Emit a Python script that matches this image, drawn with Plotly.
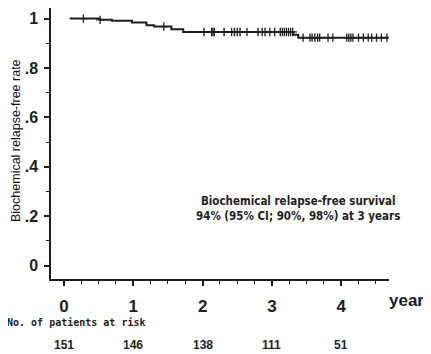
import plotly.graph_objects as go

# Kaplan-Meier step data (years, survival)
km_times = [0.08, 0.52, 0.69, 0.98, 1.19, 1.30, 1.55, 1.72, 3.31, 3.38, 4.68]
km_surv = [1.000, 0.995, 0.991, 0.984, 0.973, 0.968, 0.957, 0.946, 0.935, 0.923, 0.923]

# censoring times (years)
censor_times = [0.28, 0.52, 1.44,
                2.02, 2.13, 2.15, 2.17, 2.31, 2.42, 2.46, 2.50, 2.54, 2.64,
                2.80, 2.86, 2.90, 2.97, 3.04, 3.12, 3.15, 3.18, 3.21, 3.24, 3.27, 3.30,
                3.45, 3.55, 3.58, 3.62, 3.66, 3.69, 3.81, 3.88,
                4.08, 4.11, 4.14, 4.17, 4.25, 4.32, 4.39, 4.44, 4.51, 4.58, 4.66]

x_ticks = [0, 1, 2, 3, 4]
x_ticklabels = ["0", "1", "2", "3", "4"]
y_ticks = [0, 0.2, 0.4, 0.6, 0.8, 1.0]
y_ticklabels = ["0", ".2", ".4", ".6", ".8", "1"]

risk_times = [0, 1, 2, 3, 4]
risk_counts = [151, 146, 138, 111, 51]


def surv_at(t):
    s = km_surv[0]
    for tt, ss in zip(km_times, km_surv):
        if tt <= t:
            s = ss
    return s


censor_surv = [surv_at(t) for t in censor_times]

INK = "#1e1e1e"
NARROW = "Liberation Sans Narrow, Arial Narrow, Liberation Sans, sans-serif"

fig = go.Figure()
fig.add_trace(go.Scatter(
    x=km_times, y=km_surv, mode="lines",
    line=dict(shape="hv", color=INK, width=2),
    hoverinfo="skip", showlegend=False))
fig.add_trace(go.Scatter(
    x=censor_times, y=censor_surv, mode="markers",
    marker=dict(symbol="cross-thin", size=6, color=INK,
                line=dict(color=INK, width=1.3)),
    hoverinfo="skip", showlegend=False))

# page body has an 8px margin; lay the figure out relative to that
OFF = 8
W, H = 431 - OFF, 354 - OFF
L, R, T, B = 43, 42, 0, 75
ph = H - T - B
pw = W - L - R


def py(yref_px):
    return (H - B - (yref_px - OFF)) / ph


def px(xref_px):
    return (xref_px - OFF - L) / pw


fig.update_layout(
    width=W, height=H,
    margin=dict(l=L, r=R, t=T, b=B, autoexpand=False),
    paper_bgcolor="white", plot_bgcolor="white",
    xaxis=dict(
        range=[-0.188, 4.69], showgrid=False, zeroline=False,
        showline=True, linecolor=INK, linewidth=1.5,
        tickmode="array", tickvals=x_ticks, ticktext=x_ticklabels,
        ticks="outside", ticklen=5, tickwidth=1.5, tickcolor=INK,
        minor=dict(dtick=0.25, tick0=0, ticks="outside", ticklen=3,
                   tickwidth=1, tickcolor=INK),
        tickfont=dict(family=NARROW, size=17, color=INK, weight="bold"),
        ticklabelstandoff=6,
    ),
    yaxis=dict(
        range=[-0.054, 1.043], showgrid=False, zeroline=False,
        showline=True, linecolor=INK, linewidth=1.5,
        tickmode="array", tickvals=y_ticks, ticktext=y_ticklabels,
        ticks="outside", ticklen=5, tickwidth=1.5, tickcolor=INK,
        minor=dict(dtick=0.1, tick0=0, ticks="outside", ticklen=3,
                   tickwidth=1, tickcolor=INK),
        tickfont=dict(family=NARROW, size=16, color=INK, weight="bold"),
        ticklabelstandoff=3,
    ),
)

ann = []
ann.append(dict(xref="paper", yref="paper", x=px(16), y=0.5 * (py(50) + py(232)),
                text="Biochemical relapse-free rate", textangle=-90, showarrow=False,
                font=dict(family="Liberation Sans, Arial, sans-serif", size=12.5, color="#111"),
                xanchor="center", yanchor="middle"))
ann.append(dict(xref="x", yref="paper", x=3.38, y=py(208),
                text="Biochemical relapse-free survival<br>94% (95% CI; 90%, 98%) at 3 years",
                showarrow=False, align="center",
                font=dict(family="DejaVu Sans Condensed, DejaVu Sans, sans-serif", size=11.5,
                          color=INK, weight="bold"),
                xanchor="center", yanchor="middle"))
ann.append(dict(xref="paper", yref="paper", x=px(406), y=py(300), text="year",
                showarrow=False, xanchor="center", yanchor="middle",
                font=dict(family=NARROW, size=17, color=INK, weight="bold")))
ann.append(dict(xref="paper", yref="paper", x=px(5), y=py(322),
                text="No. of patients at risk", showarrow=False,
                xanchor="left", yanchor="middle",
                font=dict(family="DejaVu Sans Mono, monospace", size=10, color=INK,
                          weight="bold")))
for t, n in zip(risk_times, risk_counts):
    ann.append(dict(xref="x", yref="paper", x=t, y=py(345), text=str(n),
                    showarrow=False, xanchor="center", yanchor="middle",
                    font=dict(family=NARROW, size=12, color=INK, weight="bold")))
fig.update_layout(annotations=ann)

fig.write_html("out.html")
